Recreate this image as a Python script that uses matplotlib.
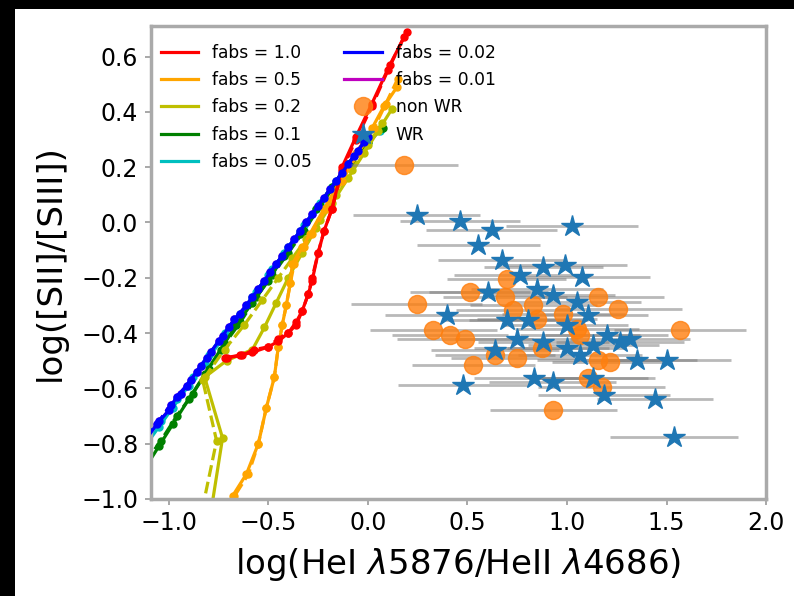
import numpy as np
import matplotlib
matplotlib.use('Agg')
import matplotlib.pyplot as plt
from matplotlib.patches import Rectangle

# photoionisation model tracks, one per fabs (solid and dashed variants)
fabs_labels = ['fabs = 1.0', 'fabs = 0.5', 'fabs = 0.2', 'fabs = 0.1',
               'fabs = 0.05', 'fabs = 0.02', 'fabs = 0.01']
fabs_colors = ['r', 'orange', 'y', 'g', 'c', 'b', 'm']
fabs_z = [2.6, 2.5, 2.4, 2.3, 2.2, 2.7, 2.0]

x_f100 = [-0.72, -0.64, -0.58, -0.50, -0.45, -0.40, -0.36, -0.33, -0.30, -0.28,
          -0.25, -0.22, -0.18, -0.13, -0.06, 0.02, 0.11, 0.196]
y_f100 = [-0.49, -0.48, -0.47, -0.45, -0.43, -0.40, -0.37, -0.32, -0.26, -0.21,
          -0.11, -0.03, 0.05, 0.20, 0.31, 0.43, 0.57, 0.69]
x_f100d = [-0.71, -0.63, -0.57, -0.50, -0.45, -0.40, -0.36, -0.33, -0.30, -0.28,
           -0.25, -0.22, -0.18, -0.13, -0.06, 0.02, 0.10, 0.18]
y_f100d = [-0.49, -0.48, -0.46, -0.45, -0.42, -0.40, -0.36, -0.32, -0.26, -0.20,
           -0.11, -0.03, 0.05, 0.19, 0.30, 0.42, 0.55, 0.67]

x_f050 = [-0.72, -0.68, -0.61, -0.55, -0.51, -0.47, -0.45, -0.43, -0.41, -0.39,
          -0.38, -0.33, -0.29, -0.22, -0.14, -0.06, 0.02, 0.08, 0.146]
y_f050 = [-1.10, -0.99, -0.91, -0.80, -0.67, -0.56, -0.45, -0.37, -0.30, -0.22,
          -0.15, -0.09, -0.04, 0.05, 0.15, 0.25, 0.34, 0.42, 0.49]
x_f050d = [-0.71, -0.67, -0.60, -0.55, -0.51, -0.47, -0.45, -0.43, -0.41, -0.39,
           -0.37, -0.32, -0.28, -0.21, -0.13, -0.05, 0.03, 0.09, 0.15]
y_f050d = [-1.10, -0.99, -0.91, -0.80, -0.67, -0.56, -0.45, -0.37, -0.30, -0.22,
           -0.15, -0.09, -0.04, 0.05, 0.15, 0.25, 0.34, 0.43, 0.52]

x_f020 = [-0.80, -0.73, -0.82, -0.71, -0.58, -0.52, -0.46, -0.40, -0.33, -0.26,
          -0.18, -0.10, -0.02, 0.05, 0.12]
y_f020 = [-1.10, -0.78, -0.56, -0.50, -0.46, -0.38, -0.29, -0.20, -0.11, -0.02,
          0.07, 0.16, 0.25, 0.33, 0.41]
x_f020d = [-0.85, -0.76, -0.83, -0.72, -0.62, -0.53, -0.45, -0.38, -0.31, -0.24,
           -0.16, -0.08, 0.00, 0.07]
y_f020d = [-1.10, -0.79, -0.57, -0.46, -0.37, -0.28, -0.20, -0.13, -0.06, 0.01,
           0.10, 0.19, 0.28, 0.36]

x_f010 = [-1.12, -1.05, -0.98, -0.90, -0.82, -0.74, -0.66, -0.58, -0.50, -0.42,
          -0.34, -0.26, -0.18, -0.10, -0.02, 0.075]
y_f010 = [-0.89, -0.81, -0.73, -0.64, -0.55, -0.46, -0.37, -0.29, -0.21, -0.12,
          -0.04, 0.05, 0.13, 0.21, 0.28, 0.34]
x_f010d = [-1.12, -1.04, -0.96, -0.88, -0.80, -0.72, -0.64, -0.56, -0.48, -0.40,
           -0.32, -0.24, -0.16, -0.08, 0.00, 0.07]
y_f010d = [-0.87, -0.79, -0.70, -0.62, -0.53, -0.44, -0.36, -0.27, -0.19, -0.11,
           -0.03, 0.06, 0.14, 0.22, 0.29, 0.34]

x_f005 = [-1.12, -1.05, -0.98, -0.90, -0.82, -0.74, -0.66, -0.58, -0.50, -0.42,
          -0.34, -0.26, -0.18, -0.10, -0.02, 0.07]
y_f005 = [-0.81, -0.74, -0.67, -0.59, -0.51, -0.43, -0.35, -0.27, -0.19, -0.11,
          -0.03, 0.05, 0.13, 0.21, 0.28, 0.34]
x_f005d = [-1.12, -1.04, -0.96, -0.88, -0.80, -0.72, -0.64, -0.56, -0.48, -0.40,
           -0.32, -0.24, -0.16, -0.08, 0.00, 0.06]
y_f005d = [-0.80, -0.72, -0.64, -0.56, -0.48, -0.40, -0.33, -0.25, -0.17, -0.09,
           -0.01, 0.07, 0.15, 0.22, 0.29, 0.33]

x_f002 = [-1.12, -1.06, -1.00, -0.96, -0.91, -0.86, -0.81, -0.75, -0.70, -0.64,
          -0.58, -0.52, -0.46, -0.40, -0.34, -0.28, -0.22, -0.16, -0.10, -0.05, 0.00]
y_f002 = [-0.79, -0.73, -0.68, -0.63, -0.59, -0.54, -0.49, -0.43, -0.38, -0.33,
          -0.27, -0.21, -0.15, -0.09, -0.03, 0.03, 0.09, 0.15, 0.21, 0.26, 0.31]
x_f002d = [-1.12, -1.05, -0.99, -0.94, -0.89, -0.84, -0.79, -0.73, -0.67, -0.61,
           -0.55, -0.49, -0.43, -0.37, -0.31, -0.25, -0.19, -0.13, -0.07, -0.02]
y_f002d = [-0.78, -0.72, -0.66, -0.62, -0.57, -0.52, -0.47, -0.41, -0.35, -0.30,
           -0.24, -0.18, -0.12, -0.06, 0.00, 0.06, 0.12, 0.18, 0.24, 0.29]

x_f001 = x_f002
y_f001 = y_f002
x_f001d = x_f002d
y_f001d = y_f002d

tracks = [(x_f100, y_f100, x_f100d, y_f100d),
          (x_f050, y_f050, x_f050d, y_f050d),
          (x_f020, y_f020, x_f020d, y_f020d),
          (x_f010, y_f010, x_f010d, y_f010d),
          (x_f005, y_f005, x_f005d, y_f005d),
          (x_f002, y_f002, x_f002d, y_f002d),
          (x_f001, y_f001, x_f001d, y_f001d)]

# observed regions
x_nwr = [0.183, 0.245, 0.513, 0.328, 0.412, 0.487, 0.529, 0.638, 0.747, 0.688,
         0.730, 0.831, 0.848, 0.873, 1.049, 1.065, 1.157, 1.258, 1.568, 1.216,
         1.157, 1.107, 1.174, 0.931, 0.981, 0.697]
y_nwr = [0.207, -0.294, -0.251, -0.390, -0.408, -0.420, -0.516, -0.480, -0.492, -0.269,
         -0.318, -0.300, -0.348, -0.456, -0.384, -0.408, -0.269, -0.312, -0.390, -0.504,
         -0.498, -0.564, -0.594, -0.679, -0.330, -0.203]
xerr_nwr = [0.27, 0.33, 0.30, 0.32, 0.29, 0.34, 0.31, 0.30, 0.33, 0.31,
            0.29, 0.32, 0.30, 0.34, 0.31, 0.30, 0.33, 0.32, 0.33, 0.29,
            0.31, 0.30, 0.32, 0.32, 0.31, 0.30]

x_wr = [0.245, 0.462, 0.621, 0.554, 1.024, 0.671, 0.881, 0.990, 1.074, 0.764,
        0.605, 0.395, 0.697, 0.806, 0.848, 0.931, 1.049, 1.107, 0.747, 0.881,
        0.638, 0.998, 1.199, 1.266, 1.317, 1.132, 1.065, 1.350, 1.501, 0.479,
        0.834, 0.928, 1.132, 1.186, 1.442, 1.538, 0.998]
y_wr = [0.028, 0.004, -0.029, -0.083, -0.011, -0.137, -0.161, -0.153, -0.197, -0.191,
        -0.251, -0.336, -0.354, -0.354, -0.239, -0.264, -0.287, -0.336, -0.420, -0.432,
        -0.462, -0.456, -0.408, -0.432, -0.420, -0.444, -0.480, -0.498, -0.498, -0.588,
        -0.564, -0.579, -0.564, -0.625, -0.637, -0.775, -0.372]
xerr_wr = [0.32, 0.30, 0.33, 0.31, 0.33, 0.32, 0.30, 0.31, 0.34, 0.33,
           0.30, 0.31, 0.32, 0.30, 0.33, 0.31, 0.32, 0.30, 0.31, 0.33,
           0.32, 0.30, 0.31, 0.32, 0.30, 0.33, 0.31, 0.30, 0.32, 0.33,
           0.30, 0.32, 0.31, 0.33, 0.29, 0.32, 0.31]

fig = plt.figure(figsize=(7.94, 5.96), dpi=100, facecolor='black')
fig.patches.append(Rectangle((15 / 794, 0), 1, 1 - 9 / 596, transform=fig.transFigure,
                             facecolor='white', edgecolor='none', zorder=-1))
ax = fig.add_axes([0.190, 0.163, 0.775, 0.793])

for (xs, ys, xd, yd), lab, col, z in zip(tracks, fabs_labels, fabs_colors, fabs_z):
    ax.plot(xs, ys, '-', color=col, lw=2.3, label=lab, zorder=z)
    ax.plot(xs, ys, 'o', color=col, ms=5, zorder=z)
    ax.plot(xd, yd, '--o', color=col, lw=2.3, ms=5, zorder=z)

ax.errorbar(x_nwr, y_nwr, xerr=xerr_nwr, fmt='none', ecolor='gray', elinewidth=2,
            alpha=0.55, zorder=3)
ax.errorbar(x_wr, y_wr, xerr=xerr_wr, fmt='none', ecolor='gray', elinewidth=2,
            alpha=0.55, zorder=3)
ax.plot(x_nwr, y_nwr, 'o', color='C1', ms=13, alpha=0.8, ls='none', label='non WR', zorder=4)
ax.plot(x_wr, y_wr, '*', color='C0', ms=16, ls='none', label='WR', zorder=5)

ax.set_xlim(-1.09, 2.0)
ax.set_ylim(-1.0, 0.71)
ax.set_xticks([-1.0, -0.5, 0.0, 0.5, 1.0, 1.5, 2.0])
ax.set_yticks([-1.0, -0.8, -0.6, -0.4, -0.2, 0.0, 0.2, 0.4, 0.6])
ax.tick_params(labelsize=17, color='#999999', length=4, width=1.2, pad=5)
for sp in ax.spines.values():
    sp.set_color('#aaaaaa')
    sp.set_linewidth(2.5)

ax.set_xlabel(r'log(HeI $\lambda$5876/HeII $\lambda$4686)', fontsize=24.5, labelpad=8)
ax.set_ylabel('log([SII]/[SIII])', fontsize=24.5, labelpad=10)

ax.legend(loc='upper left', bbox_to_anchor=(0.005, 0.977), borderaxespad=0,
          ncol=2, frameon=False, fontsize=12.3, handlelength=2.2,
          labelspacing=0.54, columnspacing=1.9)

fig.savefig('out.png', dpi=100, facecolor=fig.get_facecolor())
